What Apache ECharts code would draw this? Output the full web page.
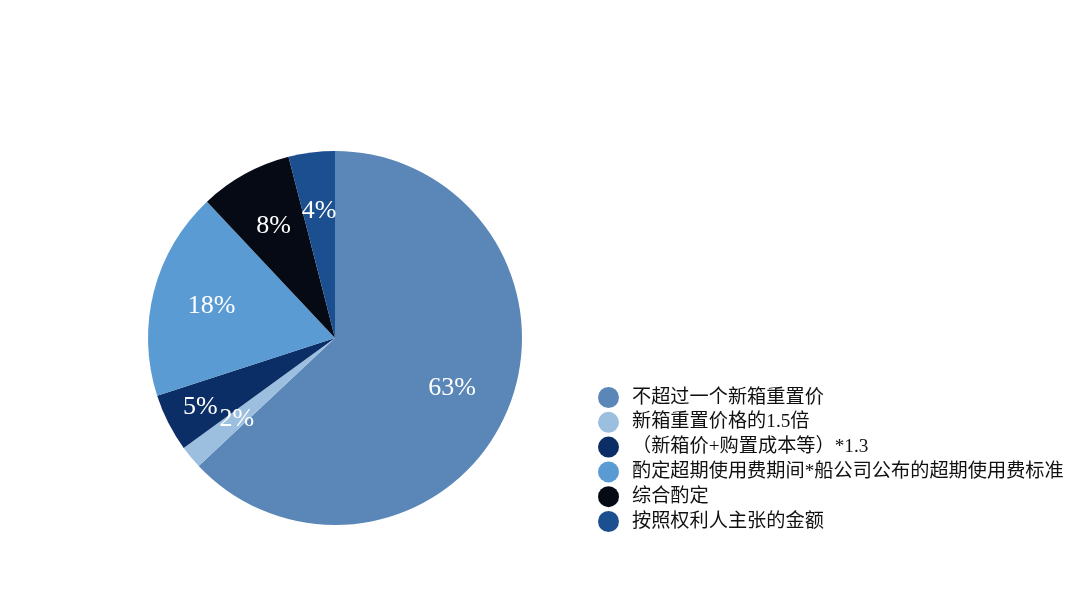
<!DOCTYPE html>
<html lang="zh">
<head>
    <meta charset="UTF-8">
    <title>Pie</title>
</head>
<body style="margin:0;background:#fff">
    <div id="container" style="width:1080px;height:608px"></div>
    <script src="https://cdn.jsdelivr.net/npm/echarts@6/dist/echarts.min.js"></script>
    <script>
        var categories = [
            '不超过一个新箱重置价',
            '新箱重置价格的1.5倍',
            '（新箱价+购置成本等）*1.3',
            '酌定超期使用费期间*船公司公布的超期使用费标准',
            '综合酌定',
            '按照权利人主张的金额'
        ];
        var values = [63, 2, 5, 18, 8, 4];
        var colors = ['#5b87b8', '#9dbfdf', '#0c2e66', '#5b9bd4', '#050a15', '#1c4f8f'];

        var fontFam = "'Liberation Serif', 'Noto Sans CJK SC', serif";
        var data = categories.map(function (name, i) {
            return { name: name, value: values[i], itemStyle: { color: colors[i] } };
        });

        var myChart = echarts.init(document.getElementById('container'));
        var option = {
            animation: false,
            legend: {
                orient: 'vertical',
                left: 593,
                top: 382,
                icon: 'circle',
                itemWidth: 21,
                itemHeight: 21,
                itemGap: 3.8,
                textStyle: { fontFamily: fontFam, fontSize: 19.2, lineHeight: 21, color: '#111', padding: [0, 0, 0, 8] },
                data: categories
            },
            series: [
                {
                    // 饼图本体
                    type: 'pie',
                    center: [335, 338],
                    radius: [0, 187],
                    startAngle: 90,
                    clockwise: true,
                    label: { show: false },
                    labelLine: { show: false },
                    silent: true,
                    data: data
                },
                {
                    // 只负责百分比标签（放在约 2/3 半径处）
                    type: 'pie',
                    center: [335, 338],
                    radius: [62, 187],
                    startAngle: 90,
                    clockwise: true,
                    silent: true,
                    avoidLabelOverlap: false,
                    labelLayout: { hideOverlap: false },
                    label: {
                        show: true,
                        position: 'inside',
                        formatter: '{d}%',
                        color: '#fff',
                        fontFamily: fontFam,
                        fontSize: 26
                    },
                    labelLine: { show: false },
                    data: categories.map(function (name, i) {
                        var d = { name: name, value: values[i], itemStyle: { color: 'rgba(0,0,0,0)' } };
                        // 5% 标签在原图中往左下挪了一点
                        if (i === 2) d.label = { formatter: '\n{d}%', lineHeight: 22, padding: [0, 42, 0, 0] };
                        return d;
                    })
                }
            ]
        };
        myChart.setOption(option);
    </script>
</body>
</html>
